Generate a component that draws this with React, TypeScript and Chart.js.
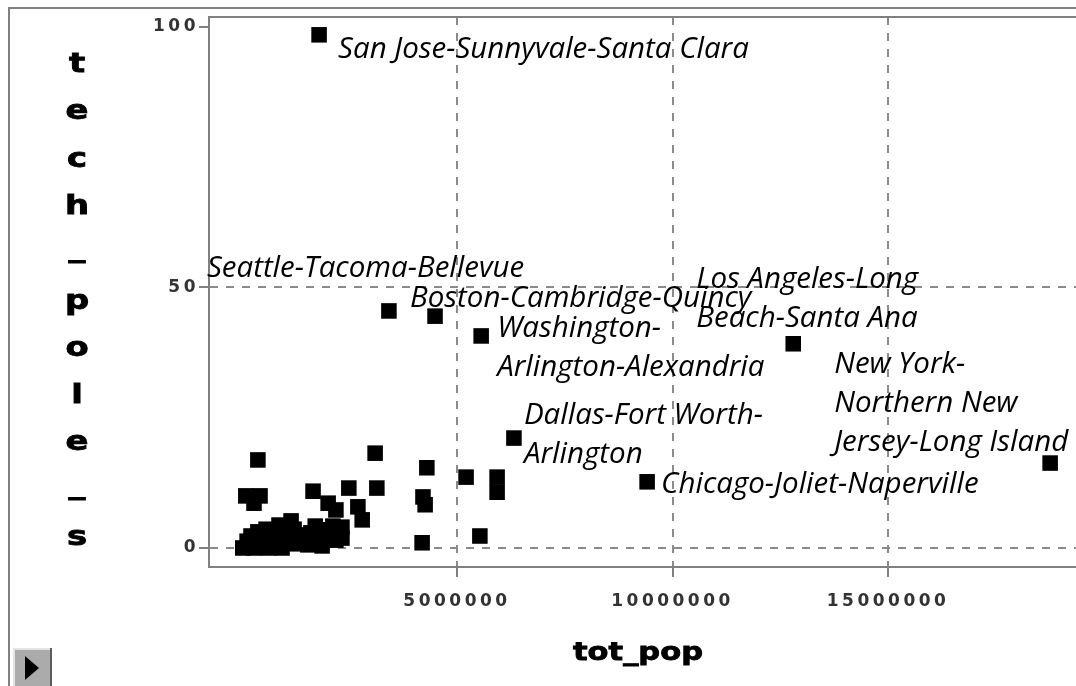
import React, { useEffect, useRef } from "react";
import { Chart, registerables } from "chart.js";

Chart.register(...registerables);

// ---- Data ----
const labeledNames = [
  "San Jose-Sunnyvale-Santa Clara",
  "Seattle-Tacoma-Bellevue",
  "Boston-Cambridge-Quincy",
  "Washington-Arlington-Alexandria",
  "Los Angeles-Long Beach-Santa Ana",
  "New York-Northern New Jersey-Long Island",
  "Dallas-Fort Worth-Arlington",
  "Chicago-Joliet-Naperville",
];
const labeledPop = [1800000, 3420000, 4490000, 5560000, 12800000, 18760000, 6320000, 9410000];
const labeledTech = [98.5, 45.5, 44.5, 40.7, 39.2, 16.3, 21.1, 12.7];
// label text as it wraps in the picture
const labelLines = [
  ["San Jose-Sunnyvale-Santa Clara"],
  ["Seattle-Tacoma-Bellevue"],
  ["Boston-Cambridge-Quincy"],
  ["Washington-", "Arlington-Alexandria"],
  ["Los Angeles-Long", "Beach-Santa Ana"],
  ["New York-", "Northern New", "Jersey-Long Island"],
  ["Dallas-Fort Worth-", "Arlington"],
  ["Chicago-Joliet-Naperville"],
];
// label placement relative to its point (px): [dx to left edge, dy to first baseline]
const labelOffsets = [
  [19, 23],
  [-182, -34],
  [-25, -9],
  [16, 1],
  [-97, -56],
  [-216, -90],
  [10, -14],
  [14, 11],
];

const otherPop = [
  380000, 100000, 430000, 290000, 1660000, 2490000, 3140000, 3100000, 2010000, 2190000,
  2700000, 2800000, 4300000, 4210000, 4260000, 4190000, 5210000, 5930000, 5930000, 5530000,
  30000, 130000, 220000, 290000, 380000, 480000, 570000, 630000, 710000, 800000,
  870000, 940000, 1010000, 1080000, 1150000, 1220000, 1260000, 1360000, 1470000, 1540000,
  1610000, 1710000, 1800000, 1870000, 1960000, 2050000, 2120000, 2190000, 2260000, 2330000,
  2330000, 860000, 530000, 200000,
];
const otherTech = [
  16.9, 10.0, 10.0, 8.6, 10.9, 11.5, 11.5, 18.2, 8.6, 7.3,
  7.9, 5.4, 15.4, 9.8, 8.3, 1.0, 13.6, 13.6, 10.7, 2.3,
  0, 1.3, 2.3, 0, 3.1, 1.2, 3.6, 0, 2.3, 0.6,
  4.4, 0, 3.1, 1.3, 5.2, 3.6, 0.8, 2.5, 1.5, 0.6,
  2.9, 4.2, 1.9, 0.4, 3.5, 1.9, 4.2, 1.5, 2.7, 4.0,
  1.9, 1.9, 0.6, 0.4,
];

const xTicks = [5000000, 10000000, 15000000];
const yTicks = [0, 50, 100];
const xTitle = "tot_pop";
const yTitle = "tech_pole_s";

export default function App() {
  const ref = useRef<HTMLCanvasElement>(null);

  useEffect(() => {
    const canvas = ref.current!;
    const points = [
      ...labeledPop.map((x, i) => ({ x, y: labeledTech[i] })),
      ...otherPop.map((x, i) => ({ x, y: otherTech[i] })),
    ];

    const drawWide = (ctx: any, text: string, cx: number, by: number, sx: number) => {
      ctx.save();
      ctx.translate(cx, by);
      ctx.scale(sx, 1);
      ctx.fillText(text, 0, 0);
      ctx.strokeText(text, 0, 0);
      ctx.restore();
    };

    const decor = {
      id: "decor",
      beforeDraw(chart: any) {
        const ctx = chart.ctx;
        ctx.save();
        ctx.fillStyle = "#ffffff";
        ctx.fillRect(0, 0, chart.width, chart.height);
        ctx.restore();
        ctx.letterSpacing = "3.5px";
      },
      beforeDatasetsDraw(chart: any) {
        chart.ctx.letterSpacing = "0px";
      },
      afterDraw(chart: any) {
        const ctx = chart.ctx;
        const area = chart.chartArea;
        const xs = chart.scales.x;
        const ys = chart.scales.y;
        ctx.save();
        ctx.letterSpacing = "0px";
        ctx.setLineDash([]);

        // outer frame
        ctx.strokeStyle = "#808080";
        ctx.lineWidth = 2;
        ctx.beginPath();
        ctx.moveTo(9, chart.height);
        ctx.lineTo(9, 8);
        ctx.lineTo(chart.width, 8);
        ctx.stroke();
        // plot top border
        ctx.beginPath();
        ctx.moveTo(area.left - 1, area.top);
        ctx.lineTo(area.right, area.top);
        ctx.stroke();

        // button bottom-left
        ctx.fillStyle = "#ababab";
        ctx.fillRect(13, 648, 39, 38);
        ctx.fillStyle = "#e4e4e4";
        ctx.fillRect(13, 648, 39, 2);
        ctx.fillRect(13, 648, 2, 38);
        ctx.fillStyle = "#5c5c5c";
        ctx.fillRect(50, 648, 2, 38);
        ctx.fillStyle = "#000";
        ctx.beginPath();
        ctx.moveTo(25, 656);
        ctx.lineTo(39, 668);
        ctx.lineTo(25, 680);
        ctx.closePath();
        ctx.fill();

        // axis titles
        ctx.fillStyle = "#000";
        ctx.strokeStyle = "#000";
        ctx.lineWidth = 0.8;
        ctx.font = "bold 26px 'DejaVu Sans'";
        ctx.textAlign = "center";
        ctx.textBaseline = "alphabetic";
        yTitle.split("").forEach((c, i) => {
          drawWide(ctx, c, 77, 72 + i * 47.3 - (c === "_" ? 4 : 0), 1.3);
        });
        ctx.font = "bold 24px 'DejaVu Sans'";
        drawWide(ctx, xTitle, 638, 660, 1.27);

        // point labels
        ctx.font = "italic 29.5px 'Open Sans'";
        ctx.textAlign = "left";
        ctx.fillStyle = "#000";
        labelLines.forEach((lines, i) => {
          const px = xs.getPixelForValue(labeledPop[i]);
          const py = ys.getPixelForValue(labeledTech[i]);
          const [dx, dy] = labelOffsets[i];
          lines.forEach((ln, j) => {
            ctx.fillText(ln, px + dx, py + dy + j * 39);
          });
        });
        ctx.restore();
      },
    };

    const gridOpts = (hideValue: number | null) => ({
      color: (c: any) => (hideValue !== null && c.tick && c.tick.value === hideValue ? "rgba(0,0,0,0)" : "#8a8a8a"),
      lineWidth: 2,
      drawTicks: true,
      tickLength: 10,
      tickColor: "#808080",
      tickWidth: 2,
      tickBorderDash: [0, 0],
    });

    const chart = new Chart(canvas, {
      type: "scatter",
      data: {
        datasets: [
          {
            label: "tech_pole_s",
            data: points,
            pointStyle: "rect",
            pointRadius: 11,
            pointHoverRadius: 11,
            backgroundColor: "#000000",
            borderWidth: 0,
          },
        ],
      },
      options: {
        animation: false,
        responsive: false,
        maintainAspectRatio: false,
        layout: { autoPadding: false, padding: { left: 0, top: 17, right: 0, bottom: 0 } },
        plugins: {
          legend: { display: false },
          tooltip: { enabled: false },
        },
        scales: {
          x: {
            type: "linear",
            min: -754000,
            max: 19360000,
            afterFit(scale: any) {
              scale.height = 119;
            },
            afterBuildTicks(scale: any) {
              scale.ticks = xTicks.map((v) => ({ value: v }));
            },
            grid: gridOpts(null),
            border: { display: true, color: "#808080", width: 2, dash: [8, 8] },
            ticks: {
              autoSkip: false,
              maxRotation: 0,
              padding: 14,
              color: "#333333",
              font: { family: "DejaVu Sans", weight: "bold", size: 17 },
              callback: (v: any) => String(v),
            },
          },
          y: {
            type: "linear",
            min: -3.65,
            max: 101.92,
            afterFit(scale: any) {
              scale.width = 209;
            },
            afterBuildTicks(scale: any) {
              scale.ticks = yTicks.map((v) => ({ value: v }));
            },
            grid: gridOpts(100),
            border: { display: true, color: "#808080", width: 2, dash: [8, 8] },
            ticks: {
              padding: 0,
              color: "#333333",
              font: { family: "DejaVu Sans", weight: "bold", size: 17 },
              callback: (v: any) => String(v),
            },
          },
        },
      },
      plugins: [decor],
    });

    return () => chart.destroy();
  }, []);

  return (
    <div style={{ position: "fixed", left: 0, top: 0, width: 1076, height: 686, background: "#fff" }}>
      <canvas ref={ref} width={1076} height={686} style={{ display: "block", width: 1076, height: 686 }} />
    </div>
  );
}
